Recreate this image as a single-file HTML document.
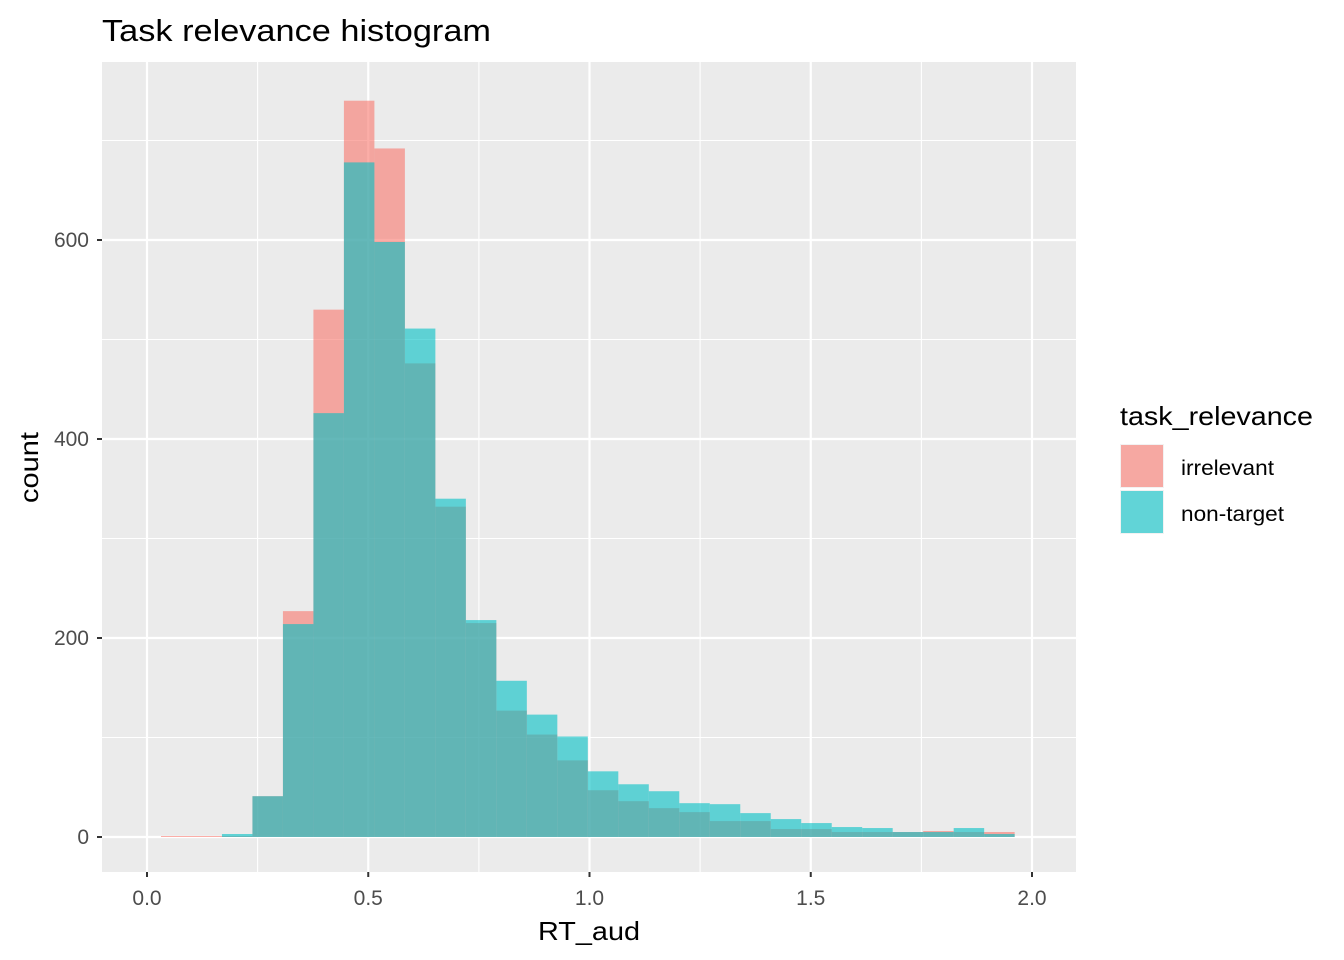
<!DOCTYPE html>
<html><head><meta charset="utf-8"><style>body{margin:0;background:#fff}svg{display:block;font-family:"Liberation Sans",Arial,sans-serif}</style></head>
<body>
<svg id="c" width="1344" height="960"></svg>
<script>
const binStart = 0.0316;
const binWidth = 0.0689;
const irrelevantCounts = [1,1,1,41,227,530,740,692,476,332,215,127,103,77,47,36,29,25,16,16,8,8,5,5,5,6,5,5];
const nonTargetCounts = [0,0,3,41,214,426,678,598,511,340,218,157,123,101,66,53,46,34,33,24,18,14,10,9,5,5,9,3];
const xTicks = [0,0.5,1,1.5,2];
const xTickLabels = ["0.0","0.5","1.0","1.5","2.0"];
const yTicks = [0,200,400,600];
const yTickLabels = ["0","200","400","600"];
const NS="http://www.w3.org/2000/svg", svg=document.getElementById('c');
const P={l:102,r:1076,t:62,b:872};
const X=v=>147+v*442.5, Y=v=>837-v*0.995;
function el(t,a,p){const e=document.createElementNS(NS,t);for(const k in a)e.setAttribute(k,a[k]);(p||svg).appendChild(e);return e;}
const bg=el('rect',{x:P.l,y:P.t,width:P.r-P.l,height:P.b-P.t,fill:'#EBEBEB'});


for(let i=0;i<xTicks.length-1;i++){const v=(xTicks[i]+xTicks[i+1])/2;const g=el('line',{x1:X(v),x2:X(v),y1:P.t,y2:P.b,stroke:'#fff','stroke-width':1.1});

}
for(let i=0;i<yTicks.length;i++){const v=yTicks[i]+100;const g=el('line',{x1:P.l,x2:P.r,y1:Y(v),y2:Y(v),stroke:'#fff','stroke-width':1.1});

}
xTicks.forEach((v,i)=>{const g=el('line',{x1:X(v),x2:X(v),y1:P.t,y2:P.b,stroke:'#fff','stroke-width':2.2});


const tk=el('line',{x1:X(v),x2:X(v),y1:P.b,y2:P.b+5,stroke:'#333','stroke-width':2});


const t=el('text',{x:X(v),y:P.b+33,'text-anchor':'middle','font-size':21,fill:'#4D4D4D'});t.textContent=xTickLabels[i];

});
yTicks.forEach((v,i)=>{const g=el('line',{x1:P.l,x2:P.r,y1:Y(v),y2:Y(v),stroke:'#fff','stroke-width':2.2});


const tk=el('line',{x1:P.l-5,x2:P.l,y1:Y(v),y2:Y(v),stroke:'#333','stroke-width':2});


const t=el('text',{x:P.l-13,y:Y(v)+7,'text-anchor':'end','font-size':21,fill:'#4D4D4D'});t.textContent=yTickLabels[i];

});
function bars(arr,color,name){arr.forEach((c,i)=>{const x0=X(binStart+i*binWidth),x1=X(binStart+(i+1)*binWidth);
const r=el('rect',{x:x0,y:Y(c),width:x1-x0,height:Y(0)-Y(c),fill:color,'fill-opacity':0.6});

});}
bars(irrelevantCounts,'#F8766D','bar-irrelevant');
bars(nonTargetCounts,'#00BFC4','bar-non-target');
const tt=el('text',{x:102,y:41,'font-size':31,fill:'#000',textLength:389,lengthAdjust:'spacingAndGlyphs'});tt.textContent='Task relevance histogram';


const xt=el('text',{x:538,y:940,'font-size':26,fill:'#000',textLength:102,lengthAdjust:'spacingAndGlyphs'});xt.textContent='RT_aud';


const yt=el('text',{x:0,y:0,'font-size':26,fill:'#000',textLength:71,lengthAdjust:'spacingAndGlyphs',transform:'translate(38,503) rotate(-90)'});yt.textContent='count';


const lt=el('text',{x:1120,y:425,'font-size':26,fill:'#000',textLength:193,lengthAdjust:'spacingAndGlyphs'});lt.textContent='task_relevance';


[['irrelevant','#F8766D',444,93],['non-target','#00BFC4',490,103]].forEach(([n,c,y,w])=>{
const b=el('rect',{x:1120,y:y,width:44,height:44,fill:'#F2F2F2'});


const k=el('rect',{x:1121,y:y+1,width:42,height:42,fill:c,'fill-opacity':0.6});


const t=el('text',{x:1181,y:y+31,'font-size':21,fill:'#000',textLength:w,lengthAdjust:'spacingAndGlyphs'});t.textContent=n;

});
</script>
</body></html>
